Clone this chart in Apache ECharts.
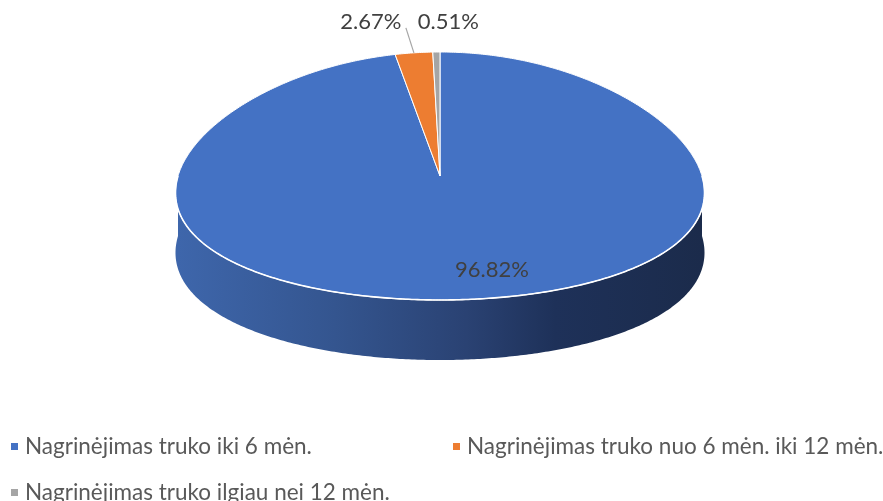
<!DOCTYPE html>
<html>
<head>
<meta charset="utf-8">
<script src="https://cdn.jsdelivr.net/npm/echarts@6/dist/echarts.min.js"></script>
<style>html,body{margin:0;padding:0;background:#fff}#c{width:883px;height:501px}</style>
</head>
<body>
<div id="c"></div>
<script>
var categories = ['Nagrinėjimas truko iki 6 mėn.', 'Nagrinėjimas truko nuo 6 mėn. iki 12 mėn.', 'Nagrinėjimas truko ilgiau nei 12 mėn.'];
var values = [96.82, 2.67, 0.51];
var labels = ['96.82%', '2.67%', '0.51%'];
var colors = ['#4472C4', '#ED7D31', '#A5A5A5'];

var FONT = 'Lato';
var CX = 440, CY = 176, RX = 262, RY = 124, DEPTH = 60, PERSP = 0.14;
var total = values.reduce(function (a, b) { return a + b; }, 0);
var starts = [], acc = 0;
values.forEach(function (v) { starts.push(acc / total * Math.PI * 2); acc += v; });

function pt(th, dy) {
  var s = 1 - PERSP * Math.cos(th);
  return [CX + RX * Math.sin(th) * s, CY - RY * Math.cos(th) + (dy || 0)];
}
function arcPts(a, b, dy) {
  var n = Math.max(2, Math.ceil((b - a) / 0.01)), out = [];
  for (var i = 0; i <= n; i++) out.push(pt(a + (b - a) * i / n, dy));
  return out;
}
var labelOffsets = [[52, 94], [-43, -31], [12, -30]];

var series = values.map(function (v, idx) {
  return {
    type: 'custom', name: categories[idx], coordinateSystem: 'none',
    itemStyle: { color: colors[idx] },
    silent: true, animation: false,
    data: [[v]],
    renderItem: function (params, api) {
      var val = api.value(0);
      var a = starts[idx], b = a + val / total * Math.PI * 2;
      var children = [];
      var fa = Math.max(a, Math.PI / 2), fb = Math.min(b, Math.PI * 1.5);
      if (fb > fa) {
        var top = arcPts(fa, fb, 0), bot = arcPts(fa, fb, DEPTH).reverse();
        var fill = idx === 0 ? new echarts.graphic.LinearGradient(CX - RX, 0, CX + RX, 0, [
          { offset: 0, color: '#3e66ab' },
          { offset: 0.3, color: '#34558f' },
          { offset: 0.55, color: '#2a4273' },
          { offset: 0.72, color: '#1e3159' },
          { offset: 1, color: '#1b2b4b' }], true) : echarts.color.modifyHSL(colors[idx], null, null, 0.3);
        children.push({ type: 'polygon', z2: 1, shape: { points: top.concat(bot) },
          style: { fill: fill, stroke: null } });
        children.push({ type: 'polyline', z2: 3, shape: { points: top },
          style: { stroke: '#ffffff', lineWidth: 1.6, fill: null } });
      }
      var pts = [[CX, CY]].concat(arcPts(a, b, 0));
      children.push({ type: 'polygon', z2: 2, shape: { points: pts },
        style: { fill: colors[idx], stroke: '#ffffff', lineWidth: 1 } });
      var mid = (a + b) / 2, anchor = pt(mid, 0);
      var off = labelOffsets[idx];
      var lx, ly;
      if (idx === 0) { lx = CX + off[0]; ly = CY + off[1]; }
      else { lx = anchor[0] + off[0]; ly = anchor[1] + off[1]; }
      children.push({ type: 'text', z2: 5, x: lx, y: ly,
        style: { text: labels[idx], fill: '#404040', font: '22px ' + FONT, align: 'center', verticalAlign: 'middle' } });
      if (idx === 1) {
        children.push({ type: 'line', z2: 5, shape: { x1: anchor[0], y1: anchor[1], x2: anchor[0] - 8, y2: anchor[1] - 25 },
          style: { stroke: '#a6a6a6', lineWidth: 1.2 } });
      }
      return { type: 'group', children: children };
    }
  };
});

var legendCommon = {
  orient: 'horizontal', icon: 'rect', itemWidth: 7, itemHeight: 7,
  textStyle: { color: '#595959', fontSize: 22.5, fontFamily: FONT, padding: [0, 0, 0, 2] },
  selectedMode: false
};
var chart = echarts.init(document.getElementById('c'), null, { renderer: 'canvas' });
chart.setOption({
  backgroundColor: '#ffffff',
  legend: [
    Object.assign({}, legendCommon, { data: [categories[0]], left: 6, top: 430 }),
    Object.assign({}, legendCommon, { data: [categories[1]], left: 448, top: 430 }),
    Object.assign({}, legendCommon, { data: [categories[2]], left: 6, top: 476 })
  ],
  series: series
});
</script>
</body>
</html>
